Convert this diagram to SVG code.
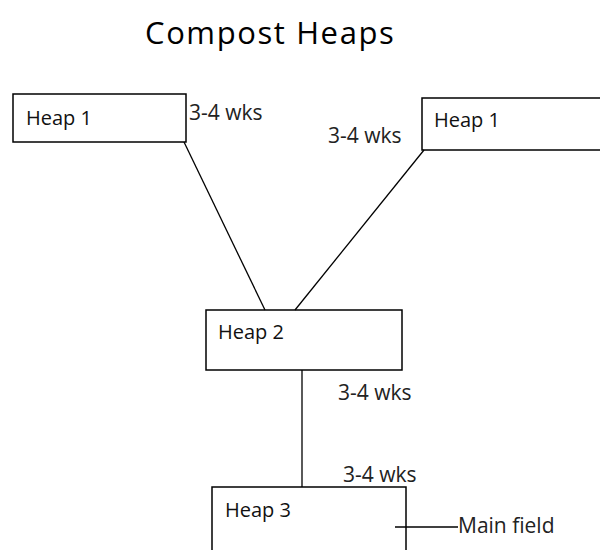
<svg xmlns="http://www.w3.org/2000/svg" width="600" height="550" viewBox="0 0 600 550">
<style>
.box{fill:#fff;stroke:#000;stroke-width:1.5}
.lbl{font-family:"Open Sans","DejaVu Sans",sans-serif;font-size:20px;fill:#111}
.wk{font-family:"Open Sans","DejaVu Sans",sans-serif;font-size:21px;fill:#222}
.ln{stroke:#000;stroke-width:1.3;fill:none}
</style>
<rect width="600" height="550" fill="#fff"/>
<text x="145" y="44" font-family="Open Sans, DejaVu Sans, sans-serif" font-size="31" letter-spacing="1.6" fill="#000">Compost Heaps</text>
<g id="heap1-left">
<rect class="box" x="13" y="94" width="173" height="48"/>
<text class="lbl" x="26" y="125">Heap 1</text>
</g>
<g id="heap1-right">
<rect class="box" x="422" y="98" width="185" height="52"/>
<text class="lbl" x="434" y="127">Heap 1</text>
</g>
<g id="heap2">
<rect class="box" x="206" y="310" width="196" height="60"/>
<text class="lbl" x="218" y="339">Heap 2</text>
</g>
<g id="heap3">
<rect class="box" x="212" y="487" width="194" height="70"/>
<text class="lbl" x="225" y="517">Heap 3</text>
</g>
<g id="connectors">
<line class="ln" x1="184" y1="142" x2="265" y2="310"/>
<line class="ln" x1="424" y1="150" x2="295" y2="310"/>
<line class="ln" x1="302" y1="370" x2="302" y2="487"/>
<line class="ln" x1="395" y1="527" x2="458" y2="527"/>
</g>
<g id="labels">
<text class="wk" x="189" y="120">3-4 wks</text>
<text class="wk" x="328" y="143">3-4 wks</text>
<text class="wk" x="338" y="400">3-4 wks</text>
<text class="wk" x="343" y="482">3-4 wks</text>
<text class="wk" x="458" y="533" font-size="22">Main field</text>
</g>
</svg>
